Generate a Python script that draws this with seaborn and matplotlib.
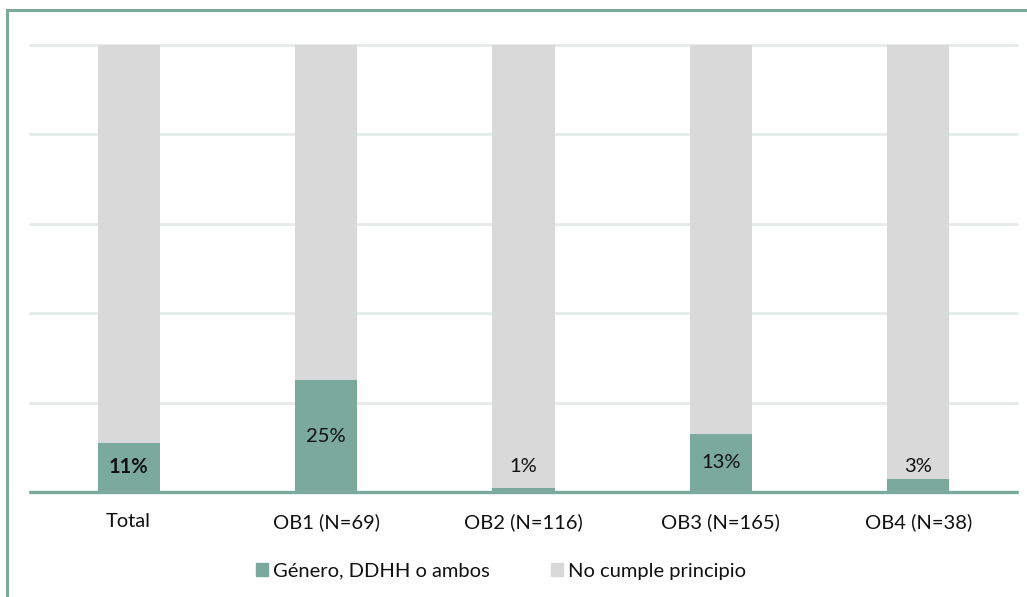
import pandas as pd
import matplotlib.pyplot as plt
import matplotlib.patches as mpatches
import seaborn as sns

categories = ['Total', 'OB1 (N=69)', 'OB2 (N=116)', 'OB3 (N=165)', 'OB4 (N=38)']
cumple = [11, 25, 1, 13, 3]
no_cumple = [100 - v for v in cumple]
labels = ['11%', '25%', '1%', '13%', '3%']

green = '#7BA99C'
grey = '#D9D9D9'

df = pd.DataFrame({'cat': categories, 'cumple': cumple, 'total': [c + n for c, n in zip(cumple, no_cumple)]})

sns.set_style('white')
plt.rcParams['font.family'] = ['Lato', 'DejaVu Sans']

fig = plt.figure(figsize=(10.27, 5.97), dpi=100)
ax = fig.add_axes([30 / 1027, 105 / 597, 987 / 1027, 447 / 597])

sns.barplot(data=df, x='cat', y='total', color=grey, width=0.315, saturation=1,
            linewidth=0, ax=ax, zorder=2)
sns.barplot(data=df, x='cat', y='cumple', color=green, width=0.315, saturation=1,
            linewidth=0, ax=ax, zorder=3)

ax.set_ylim(0, 100)
ax.set_xlim(-0.5, len(categories) - 0.5)
for y in [20, 40, 60, 80, 100]:
    ax.axhline(y, color='#E6EAE8', linewidth=2, zorder=1, clip_on=False)
ax.axhline(0, color=green, linewidth=2.4, zorder=4, clip_on=False)

for i, (v, lab) in enumerate(zip(cumple, labels)):
    ypos = max(v / 2, 5.7)
    ax.text(i, ypos, lab, ha='center', va='center', fontsize=14.5, color='#111111',
            fontweight='bold' if i == 0 else 'normal', zorder=5)

ax.set_xlabel('')
ax.set_ylabel('')
ax.set_yticks([])
ax.tick_params(axis='x', length=0, pad=15, labelsize=14.5, colors='#111111')
for s in ax.spines.values():
    s.set_visible(False)

handles = [mpatches.Patch(color=green, label='Género, DDHH o ambos'),
           mpatches.Patch(color=grey, label='No cumple principio')]
fig.legend(handles=handles, loc='center', bbox_to_anchor=(501 / 1027, 1 - 571 / 597), ncol=2,
           frameon=False, fontsize=14.5, handlelength=0.6, handleheight=0.6, handletextpad=0.25,
           columnspacing=3.0, labelcolor='#111111')

border = mpatches.Rectangle((7 / 1027, -0.1), 1.2, 1 - 10 / 597 + 0.1, transform=fig.transFigure,
                            fill=False, edgecolor=green, linewidth=2.2)
fig.patches.append(border)

fig.savefig('out.png', dpi=100)
